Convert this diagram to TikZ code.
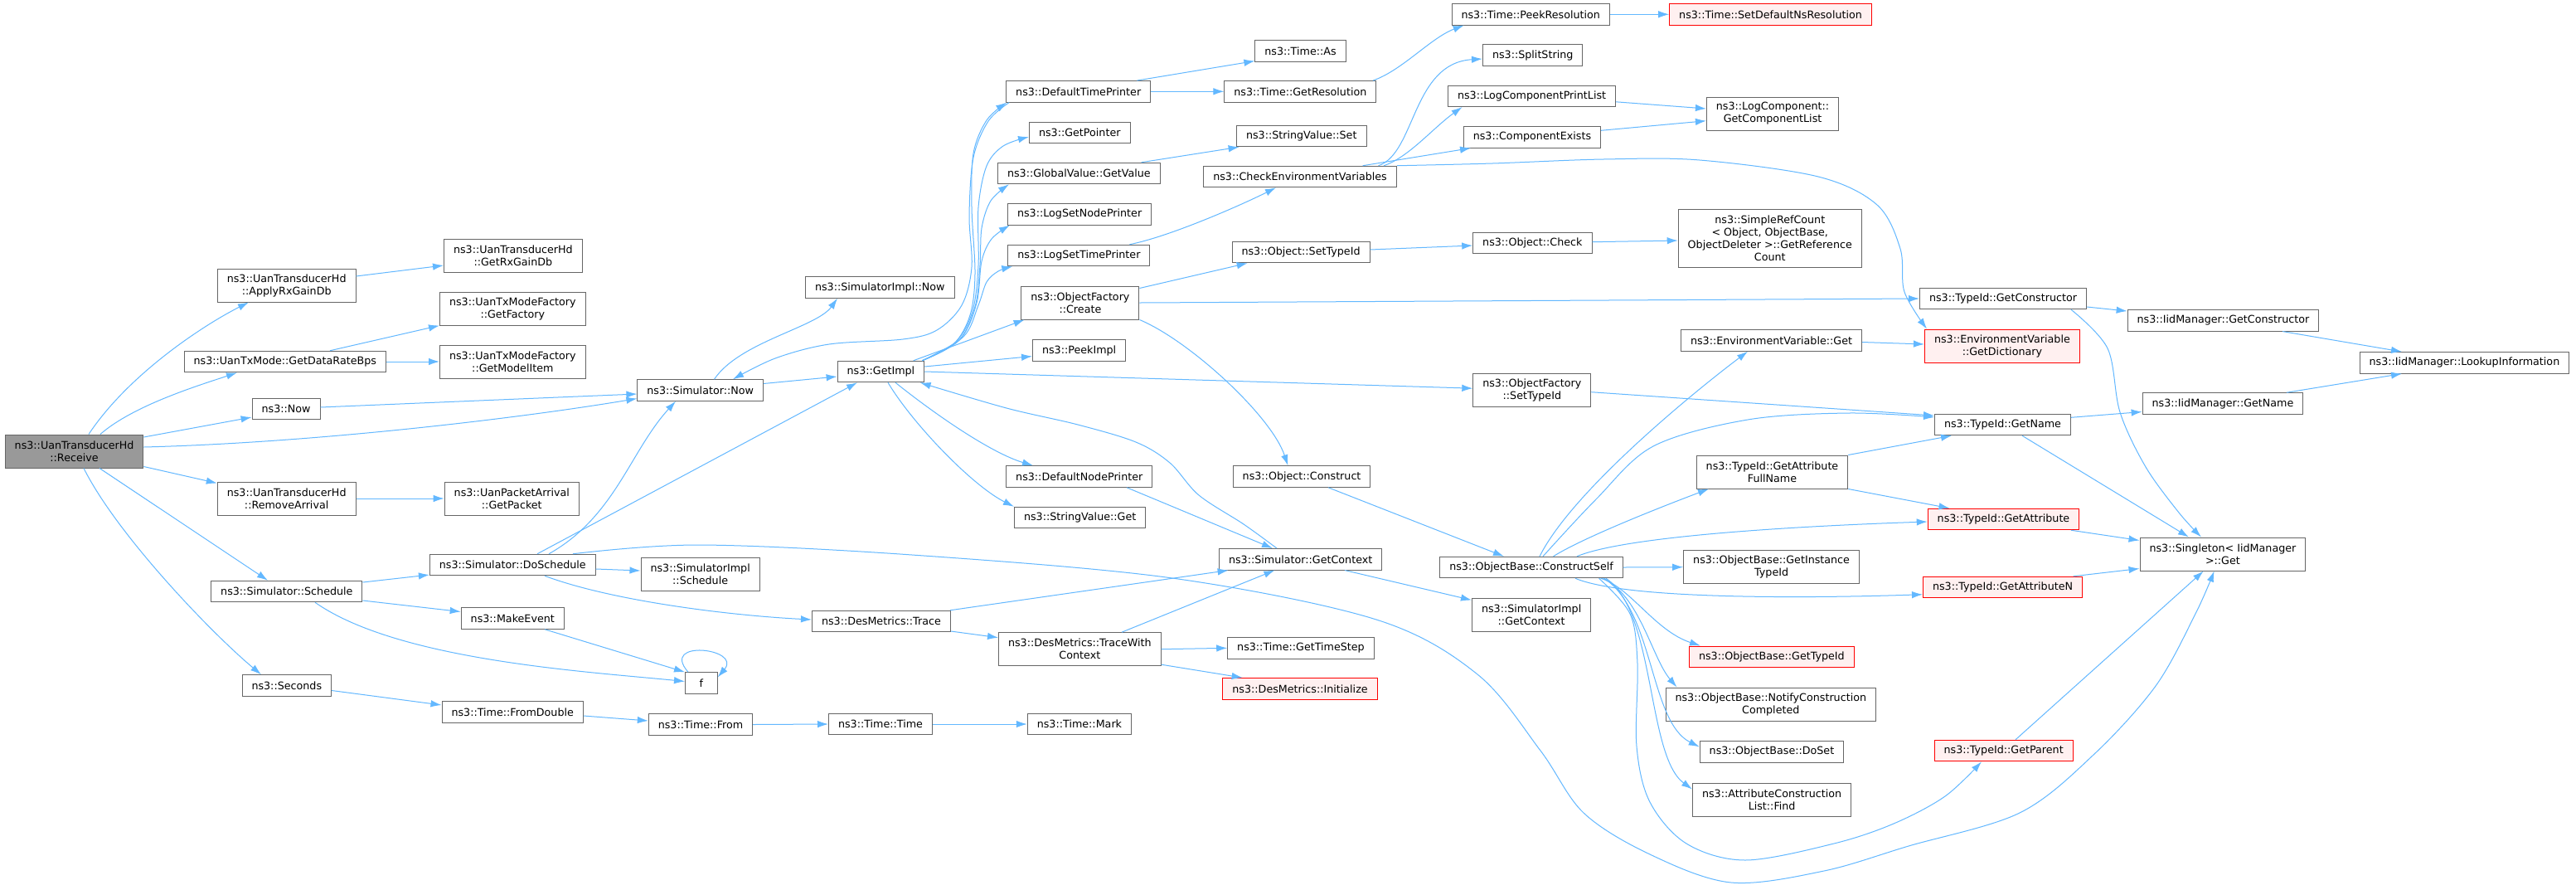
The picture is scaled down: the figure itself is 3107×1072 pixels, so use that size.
\documentclass[tikz,border=0pt]{standalone}
\usepackage{fontspec}
\setmainfont{DejaVu Sans}
\usetikzlibrary{arrows.meta}
\definecolor{edgec}{HTML}{63B8FF}
\definecolor{bord}{HTML}{666666}
\definecolor{gfill}{HTML}{999999}
\definecolor{rfill}{HTML}{FFF0F0}
\definecolor{rbord}{HTML}{FF0000}
\tikzset{
  nd/.style={draw=bord, fill=white, line width=1pt, inner xsep=11.5pt, inner ysep=2pt,
    minimum height=25.5pt, align=center, anchor=west},
  two/.style={minimum height=40pt},
  four/.style={minimum height=70pt},
  rednd/.style={nd, draw=rbord, fill=rfill},
  conn/.style={draw=edgec, line width=1pt, -{Latex[length=13pt,width=8.5pt]}},
  sm/.style={smooth, tension=0.55}
}
\begin{document}
\begin{tikzpicture}[x=1pt, y=-1pt, font=\fontsize{12.7}{15}\selectfont]
\fill[white] (0,0) rectangle (3107,1072);
\useasboundingbox (0,0) rectangle (3107,1072);

% ---------------- nodes ----------------
\node[nd, two, fill=gfill] (recv) at (5.7,544) {ns3::UanTransducerHd\\::Receive};
\node[nd, two] (apply) at (261.8,344) {ns3::UanTransducerHd\\::ApplyRxGainDb};
\node[nd] (rate) at (221.6,436) {ns3::UanTxMode::GetDataRateBps};
\node[nd] (now) at (303.6,493) {ns3::Now};
\node[nd, two] (remove) at (261.8,601) {ns3::UanTransducerHd\\::RemoveArrival};
\node[nd] (sched) at (254.2,713) {ns3::Simulator::Schedule};
\node[nd] (seconds) at (291.5,826.5) {ns3::Seconds};
\node[nd, two] (rxgain) at (535,308) {ns3::UanTransducerHd\\::GetRxGainDb};
\node[nd, two] (factory) at (530,372) {ns3::UanTxModeFactory\\::GetFactory};
\node[nd, two] (modelitem) at (530,436) {ns3::UanTxModeFactory\\::GetModelItem};
\node[nd, two] (packet) at (535.7,601) {ns3::UanPacketArrival\\::GetPacket};
\node[nd] (simnow) at (768.4,470.5) {ns3::Simulator::Now};
\node[nd] (dosched) at (517.9,681) {ns3::Simulator::DoSchedule};
\node[nd, two] (simimplsched) at (772.5,692) {ns3::SimulatorImpl\\::Schedule};
\node[nd] (makeevent) at (555.7,745.5) {ns3::MakeEvent};
\node[nd, minimum width=38.6pt] (f) at (826,823.5) {f};
\node[nd] (fromdouble) at (532.5,858.5) {ns3::Time::FromDouble};
\node[nd] (timefrom) at (781.8,873.5) {ns3::Time::From};
\node[nd] (simimplnow) at (971,346.5) {ns3::SimulatorImpl::Now};
\node[nd] (getimpl) at (1009.6,448) {ns3::GetImpl};
\node[nd] (destrace) at (979,749) {ns3::DesMetrics::Trace};
\node[nd] (timetime) at (999,873) {ns3::Time::Time};
\node[nd] (dtp) at (1213.2,110.3) {ns3::DefaultTimePrinter};
\node[nd] (getpointer) at (1241,160) {ns3::GetPointer};
\node[nd] (getvalue) at (1203,209) {ns3::GlobalValue::GetValue};
\node[nd] (lsnp) at (1215,258.3) {ns3::LogSetNodePrinter};
\node[nd] (lstp) at (1215.3,308) {ns3::LogSetTimePrinter};
\node[nd, two] (ofcreate) at (1231.4,365) {ns3::ObjectFactory\\::Create};
\node[nd] (peekimpl) at (1245,422.5) {ns3::PeekImpl};
\node[nd] (dnp) at (1213.2,574.5) {ns3::DefaultNodePrinter};
\node[nd] (svget) at (1223,624) {ns3::StringValue::Get};
\node[nd, two] (twc) at (1204,782.7) {ns3::DesMetrics::TraceWith\\Context};
\node[nd] (timemark) at (1238.8,873) {ns3::Time::Mark};
\node[nd] (timeas) at (1513.4,61.3) {ns3::Time::As};
\node[nd] (getres) at (1476.4,110.3) {ns3::Time::GetResolution};
\node[nd] (svset) at (1491,164) {ns3::StringValue::Set};
\node[nd] (cev) at (1451.3,213) {ns3::CheckEnvironmentVariables};
\node[nd] (osettid) at (1485.5,304) {ns3::Object::SetTypeId};
\node[nd] (oconstruct) at (1486.7,574.5) {ns3::Object::Construct};
\node[nd] (simgetctx) at (1470,674.3) {ns3::Simulator::GetContext};
\node[nd] (timestep) at (1480.2,781.3) {ns3::Time::GetTimeStep};
\node[rednd] (desinit) at (1474.4,830.3) {ns3::DesMetrics::Initialize};
\node[nd] (peekres) at (1750.5,17.3) {ns3::Time::PeekResolution};
\node[rednd] (setdef) at (2013.2,17.3) {ns3::Time::SetDefaultNsResolution};
\node[nd] (split) at (1788,66.5) {ns3::SplitString};
\node[nd] (lcpl) at (1746,115.8) {ns3::LogComponentPrintList};
\node[nd] (compexists) at (1764.8,165.3) {ns3::ComponentExists};
\node[nd, two] (getcomplist) at (2057.9,137) {ns3::LogComponent::\\GetComponentList};
\node[nd] (ocheck) at (1776.2,293) {ns3::Object::Check};
\node[nd, four] (simpleref) at (2023.7,287.7) {ns3::SimpleRefCount\\< Object, ObjectBase,\\ObjectDeleter >::GetReference\\Count};
\node[nd] (envget) at (2027,410.5) {ns3::EnvironmentVariable::Get};
\node[nd, two] (ofsettid) at (1776.3,470.7) {ns3::ObjectFactory\\::SetTypeId};
\node[nd] (cself) at (1736.3,684) {ns3::ObjectBase::ConstructSelf};
\node[nd, two] (simimplctx) at (1775,741) {ns3::SimulatorImpl\\::GetContext};
\node[nd, two] (fullname) at (2045.7,569) {ns3::TypeId::GetAttribute\\FullName};
\node[nd, two] (instid) at (2030.2,683.7) {ns3::ObjectBase::GetInstance\\TypeId};
\node[rednd] (gettid) at (2037,791.8) {ns3::ObjectBase::GetTypeId};
\node[nd, two] (notify) at (2008.5,849) {ns3::ObjectBase::NotifyConstruction\\Completed};
\node[nd] (doset) at (2049.7,906.4) {ns3::ObjectBase::DoSet};
\node[nd, two] (find) at (2041,964) {ns3::AttributeConstruction\\List::Find};
\node[nd] (getctor) at (2315,360) {ns3::TypeId::GetConstructor};
\node[rednd, two] (getdict) at (2321,417) {ns3::EnvironmentVariable\\::GetDictionary};
\node[nd] (getname) at (2333,512) {ns3::TypeId::GetName};
\node[rednd] (getattr) at (2324.7,626) {ns3::TypeId::GetAttribute};
\node[rednd] (getattrn) at (2319,708) {ns3::TypeId::GetAttributeN};
\node[rednd] (getparent) at (2332.6,905) {ns3::TypeId::GetParent};
\node[nd] (iidctor) at (2565.6,386.3) {ns3::IidManager::GetConstructor};
\node[nd] (iidname) at (2583.6,486.5) {ns3::IidManager::GetName};
\node[nd] (lookup) at (2845.6,437.3) {ns3::IidManager::LookupInformation};
\node[nd, two] (singleton) at (2580.5,668) {ns3::Singleton< IidManager\\>::Get};

% ---------------- helper coordinates ----------------
\coordinate (gi1) at ([xshift=-3pt]getimpl.north east);
\coordinate (dtpin) at ([xshift=1pt]dtp.south west);
\coordinate (dtpout) at ([xshift=4pt]dtp.south west);
\coordinate (gpin) at ([yshift=-5pt]getpointer.west);
\coordinate (gvin) at ([xshift=14pt]getvalue.south west);
\coordinate (lsnpin) at ([xshift=3pt]lsnp.south west);
\coordinate (lstpin) at ([xshift=6pt]lstp.south west);
\coordinate (snin) at ([xshift=115.6pt]simnow.north west);
\coordinate (cevout) at (cev.north east);
\coordinate (gdin) at ([xshift=3pt]getdict.north west);
\coordinate (csgn) at ([xshift=124.7pt]cself.north west);
\coordinate (gnin) at ([yshift=9pt]getname.west);
\coordinate (csgp) at ([xshift=192.2pt]cself.south west);
\coordinate (gpin2) at ([xshift=57.4pt]getparent.south west);
\coordinate (dsout) at ([xshift=173.1pt]dosched.north west);
\coordinate (sgin) at ([xshift=90.1pt]singleton.south west);
\coordinate (gcs) at ([xshift=183pt]getctor.south west);
\coordinate (sgin2) at ([xshift=74.5pt]singleton.north west);
\coordinate (ctxout) at ([xshift=70pt]simgetctx.north west);
\coordinate (gisein) at ([xshift=100pt]getimpl.south west);

% ---------------- edges ----------------
% Receive
\draw[conn] ([xshift=101.3pt]recv.north west) .. controls +(50,-75) and +(-50,25) .. ([xshift=38.2pt]apply.south west);
\draw[conn] ([xshift=115.3pt]recv.north west) .. controls +(40,-35) and +(-45,15) .. ([xshift=64.4pt]rate.south west);
\draw[conn] ([yshift=17pt]recv.east) -- ([yshift=-10pt]now.west);
\draw[conn] ([yshift=5pt]recv.east) .. controls +(200,-5) and +(-150,25) .. ([yshift=-10pt]simnow.west);
\draw[conn] ([yshift=2pt]recv.south east) -- ([yshift=-2pt]remove.north west);
\draw[conn] ([xshift=114.3pt]recv.south west) -- ([xshift=68.8pt]sched.north west);
\draw[conn] ([xshift=95.3pt]recv.south west) .. controls +(40,80) and +(-60,-50) .. ([xshift=23.5pt]seconds.north west);

\draw[conn] ([yshift=11pt]apply.east) -- ([yshift=-12pt]rxgain.west);
\draw[conn] ([xshift=176.4pt]rate.north west) -- (factory.south west);
\draw[conn] (rate.east) -- (modelitem.west);
\draw[conn] ([yshift=2pt]now.east) -- ([yshift=-4.5pt]simnow.west);
\draw[conn] (remove.east) -- (packet.west);

% Schedule
\draw[conn] ([yshift=11pt]sched.east) -- ([yshift=-12pt]dosched.west);
\draw[conn] ([yshift=-11pt]sched.east) -- ([yshift=8pt]makeevent.west);
\draw[conn] ([xshift=125.8pt]sched.south west) .. controls +(100,70) and +(-120,-12) .. ([yshift=2pt]f.west);
\draw[conn] ([xshift=101.3pt]makeevent.south west) -- (f.north west);
\draw[conn] ([xshift=4pt]f.north west) .. controls +(-35,-40) and +(30,-35) .. ([yshift=7pt]f.east);
\draw[conn] ([yshift=-6pt]seconds.east) -- ([yshift=8.5pt]fromdouble.west);
\draw[conn] ([yshift=-4.5pt]fromdouble.east) -- ([yshift=4.5pt]timefrom.west);
\draw[conn] (timefrom.east) -- (timetime.west);
\draw[conn] (timetime.east) -- (timemark.west);

% DoSchedule
\draw[conn] ([xshift=144.1pt]dosched.north west) .. controls +(80,-45) and +(-55,60) .. ([xshift=46.6pt]simnow.south west);
\draw[conn] ([xshift=130.1pt]dosched.north west) -- ([xshift=24.4pt]getimpl.south west);
\draw[conn] ([yshift=-5pt]dosched.east) -- ([yshift=4pt]simimplsched.west);
\draw[conn] ([xshift=139.1pt]dosched.south west) .. controls +(80,30) and +(-100,-5) .. ([yshift=2pt]destrace.west);
\draw[conn] plot[sm] coordinates {(dsout) (843,657) (1100,669) (1414,697) (1660,747) (1782,813) (1858,905) (1910,980) (1990,1030) (2088,1064) (2200,1050) (2302,1020) (2436,980) (2525,910) (2600,827) (2648,740) (sgin)};

% Simulator::Now
\draw[conn] ([xshift=93.1pt]simnow.north west) .. controls +(30,-45) and +(-25,35) .. ([xshift=39pt]simimplnow.south west);
\draw[conn] ([yshift=8pt]simnow.east) -- ([yshift=-6pt]getimpl.west);

% GetImpl bundle
\draw[conn] plot[sm] coordinates {(gi1) (1150,415) (1170,380) (1176,330) (1172,250) (1174,185) (1190,145) (dtpin)};
\draw[conn] plot[sm] coordinates {(gi1) (1153,412) (1173,375) (1180,320) (1180,250) (1190,200) (1210,176) (gpin)};
\draw[conn] plot[sm] coordinates {(gi1) (1156,411) (1176,370) (1182,320) (1184,275) (1195,242) (gvin)};
\draw[conn] plot[sm] coordinates {(gi1) (1158,409) (1178,365) (1184,315) (1196,288) (lsnpin)};
\draw[conn] plot[sm] coordinates {(gi1) (1162,406) (1180,368) (1190,340) (1204,327) (lstpin)};
\draw[conn] ([xshift=92.1pt]getimpl.north west) -- ([xshift=4.2pt]ofcreate.south west);
\draw[conn] ([yshift=6pt]getimpl.east) -- ([yshift=-7pt]peekimpl.west);
\draw[conn] (getimpl.east) -- ([yshift=2.5pt]ofsettid.west);
\draw[conn] ([xshift=70.4pt]getimpl.south west) .. controls +(50,40) and +(-50,-15) .. ([xshift=32.8pt]dnp.north west);
\draw[conn] ([xshift=61.4pt]getimpl.south west) .. controls +(30,50) and +(-50,-25) .. (svget.north west);

% DefaultTimePrinter
\draw[conn] plot[sm] coordinates {(dtpout) (1192,146) (1174,190) (1169,260) (1172,322) (1160,368) (1130,398) (1089,409) (1000,415) (935,432) (snin)};
\draw[conn] ([xshift=158.2pt]dtp.north west) -- ([yshift=1pt]timeas.south west);
\draw[conn] (dtp.east) -- (getres.west);
\draw[conn] ([xshift=179.6pt]getres.north west) .. controls +(35,-12) and +(-40,15) .. ([xshift=15.2pt]peekres.south west);
\draw[conn] (peekres.east) -- (setdef.west);
\draw[conn] ([xshift=173.6pt]getvalue.north west) -- ([xshift=3.6pt]svset.south west);
\draw[conn] ([xshift=147.1pt]lstp.north west) .. controls +(50,-10) and +(-40,20) .. ([xshift=87.7pt]cev.south west);

% CheckEnvironmentVariables
\draw[conn] ([xshift=211.2pt]cev.north west) .. controls +(45,-15) and +(-85,5) .. ([yshift=-4.5pt]split.west);
\draw[conn] ([xshift=217.7pt]cev.north west) .. controls +(30,-10) and +(-35,25) .. ([xshift=17.6pt]lcpl.south west);
\draw[conn] ([xshift=192.3pt]cev.north west) -- ([xshift=9.2pt]compexists.south west);
\draw[conn] plot[sm] coordinates {(cevout) (1800,197) (1934,192) (2050,193) (2193,213) (2264,247) (2292,300) (2297,352) (gdin)};
\draw[conn] ([yshift=-7pt]lcpl.east) -- ([yshift=6pt]getcomplist.west);
\draw[conn] ([yshift=8pt]compexists.east) -- ([yshift=-8.7pt]getcomplist.west);

% ObjectFactory::Create
\draw[conn] ([yshift=-3pt]ofcreate.north east) -- ([xshift=19.2pt]osettid.south west);
\draw[conn] (ofcreate.east) -- (getctor.west);
\draw[conn] (ofcreate.south east) .. controls +(60,25) and +(-20,-60) .. ([xshift=66.7pt]oconstruct.north west);
\draw[conn] ([yshift=3pt]osettid.east) -- ([yshift=-3pt]ocheck.west);
\draw[conn] ([yshift=1.3pt]ocheck.east) -- ([yshift=-2.3pt]simpleref.west);
\draw[conn] ([xshift=115.3pt]oconstruct.south west) -- ([xshift=77.7pt]cself.north west);

% Contexts
\draw[conn] plot[sm] coordinates {(ctxout) (1500,632) (1446,597) (1411,558) (1370,533) (1300,512) (1214,492) (gisein)};
\draw[conn] ([xshift=145.8pt]dnp.south west) -- ([xshift=65pt]simgetctx.north west);
\draw[conn] ([xshift=167pt]destrace.north west) -- ([xshift=11.6pt]simgetctx.south west);
\draw[conn] ([yshift=-12pt]destrace.east) -- ([yshift=14pt]twc.west);
\draw[conn] ([xshift=149pt]twc.north west) -- ([xshift=67.4pt]simgetctx.south west);
\draw[conn] (twc.east) -- (timestep.west);
\draw[conn] ([yshift=2pt]twc.south east) -- ([xshift=24.2pt]desinit.north west);
\draw[conn] ([xshift=152pt]simgetctx.south west) -- ([yshift=-3pt]simimplctx.north west);

% ConstructSelf
\draw[conn] ([xshift=120.7pt]cself.north west) .. controls +(40,-80) and +(-60,45) .. ([xshift=81pt]envget.south west);
\draw[conn] plot[sm] coordinates {(csgn) (1925,602) (1994,538) (2108,506) (2230,498) (gnin)};
\draw[conn] ([xshift=137.2pt]cself.north west) .. controls +(40,-25) and +(-40,15) .. ([xshift=15.3pt]fullname.south west);
\draw[conn] ([xshift=165.7pt]cself.north west) .. controls +(60,-25) and +(-150,5) .. ([yshift=-3pt]getattr.west);
\draw[conn] (cself.east) -- (instid.west);
\draw[conn] ([xshift=163.7pt]cself.south west) .. controls +(60,25) and +(-150,5) .. ([yshift=-8.7pt]getattrn.west);
\draw[conn] ([xshift=194.3pt]cself.south west) .. controls +(35,10) and +(-55,-18) .. ([xshift=14pt]gettid.north west);
\draw[conn] ([xshift=196.4pt]cself.south west) .. controls +(45,20) and +(-30,-35) .. ([xshift=14pt]notify.north west);
\draw[conn] ([xshift=198.7pt]cself.south west) .. controls +(60,40) and +(-60,-30) .. ([yshift=6pt]doset.west);
\draw[conn] ([xshift=200.7pt]cself.south west) .. controls +(60,40) and +(-55,-40) .. ([yshift=-8pt]find.north west);
\draw[conn] plot[sm] coordinates {(csgp) (1966,740) (1975,800) (1974,900) (1990,967) (2034,1017) (2105,1037) (2212,1017) (2284,993) (2346,960) (gpin2)};

% right part
\draw[conn] ([yshift=-2pt]envget.east) -- ([yshift=2pt]getdict.west);
\draw[conn] ([yshift=-2pt]ofsettid.east) -- ([yshift=11pt]getname.west);
\draw[conn] (fullname.north east) -- ([xshift=21pt]getname.south west);
\draw[conn] (fullname.south east) -- ([xshift=26.8pt]getattr.north west);
\draw[conn] ([yshift=-10pt]getctor.east) -- ([yshift=-2pt]iidctor.north west);
\draw[conn] plot[sm] coordinates {(gcs) (2542,420) (2557,497) (2588,563) (2628,618) (sgin2)};
\draw[conn] ([yshift=8.7pt]getname.east) -- ([yshift=-10pt]iidname.west);
\draw[conn] ([xshift=106pt]getname.south west) -- ([xshift=59.5pt]singleton.north west);
\draw[conn] ([xshift=187.4pt]iidctor.south west) -- ([xshift=51.4pt]lookup.north west);
\draw[conn] ([xshift=174.4pt]iidname.north west) -- ([xshift=51.4pt]lookup.south west);
\draw[conn] ([xshift=173.3pt]getattr.south west) -- ([yshift=-4pt]singleton.north west);
\draw[conn] ([xshift=181.7pt]getattrn.north west) -- ([yshift=3pt]singleton.south west);
\draw[conn] ([xshift=98.4pt]getparent.north west) -- ([xshift=77.2pt]singleton.south west);
\end{tikzpicture}
\end{document}
